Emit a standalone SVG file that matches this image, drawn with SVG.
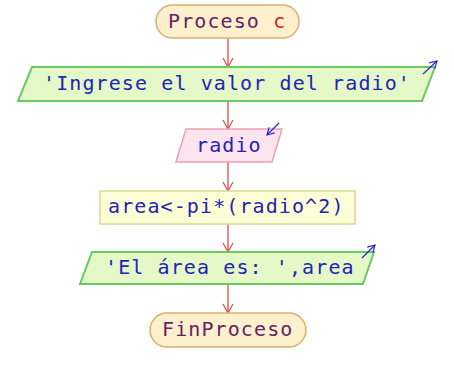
<svg xmlns="http://www.w3.org/2000/svg" width="454" height="365" viewBox="0 0 454 365">
<defs>
<style>
.t{font-family:"DejaVu Sans Mono","Liberation Mono",monospace;font-size:20px;letter-spacing:1.1px}
.b{fill:#2424b4}
.term{fill:#fdf0cc;stroke:#d8b070;stroke-width:1.5}
.io{fill:#e4f8c8;stroke:#6cc860;stroke-width:2}
.rd{fill:#fde4ee;stroke:#e8a0b4;stroke-width:1.5}
.pr{fill:#fefed6;stroke:#d8d890;stroke-width:1.5}
.c{stroke:#e04848;stroke-width:1.3;fill:none}
.ind{stroke:#2a2ad0;stroke-width:1.2;fill:none}
</style>
<marker id="ah" markerWidth="12" markerHeight="12" refX="10" refY="6" orient="auto" markerUnits="userSpaceOnUse">
<path d="M1,1 L10,6 L1,11" fill="none" stroke="#e04848" stroke-width="1.2"/>
</marker>
<marker id="bh" markerWidth="10" markerHeight="10" refX="8" refY="5" orient="auto" markerUnits="userSpaceOnUse">
<path d="M1,1 L8,5 L1,9" fill="none" stroke="#2a2ad0" stroke-width="1.2"/>
</marker>
</defs>
<g id="connectors">
<line class="c" x1="228" y1="38" x2="228" y2="67" marker-end="url(#ah)"/>
<line class="c" x1="228" y1="101" x2="228" y2="129" marker-end="url(#ah)"/>
<line class="c" x1="228" y1="162" x2="228" y2="191" marker-end="url(#ah)"/>
<line class="c" x1="228" y1="224" x2="228" y2="252" marker-end="url(#ah)"/>
<line class="c" x1="228" y1="284" x2="228" y2="313" marker-end="url(#ah)"/>
</g>
<g id="start">
<rect class="term" x="156" y="5" width="143" height="33" rx="16.5"/>
<text class="t" x="168" y="28" fill="#662266">Proceso <tspan fill="#cc2222">c</tspan></text>
</g>
<g id="out1">
<polygon class="io" points="32,67 435,67 422,101 18,101"/>
<line class="ind" x1="423" y1="74" x2="437" y2="61" marker-end="url(#bh)"/>
<text class="t b" x="43" y="90">'Ingrese el valor del radio'</text>
</g>
<g id="in1">
<polygon class="rd" points="186,129 282,129 272,162 176,162"/>
<line class="ind" x1="279" y1="123" x2="267" y2="135" marker-end="url(#bh)"/>
<text class="t b" x="196" y="152">radio</text>
</g>
<g id="proc1">
<rect class="pr" x="100" y="191" width="255" height="33"/>
<text class="t b" x="108" y="213">area&lt;-pi*(radio^2)</text>
</g>
<g id="out2">
<polygon class="io" points="92,252 374,252 363,284 80,284"/>
<line class="ind" x1="362" y1="258" x2="375" y2="245" marker-end="url(#bh)"/>
<text class="t b" x="105" y="274">'El área es: ',area</text>
</g>
<g id="end">
<rect class="term" x="150" y="313" width="156" height="34" rx="17"/>
<text class="t" x="162" y="336" fill="#662266">FinProceso</text>
</g>
</svg>
